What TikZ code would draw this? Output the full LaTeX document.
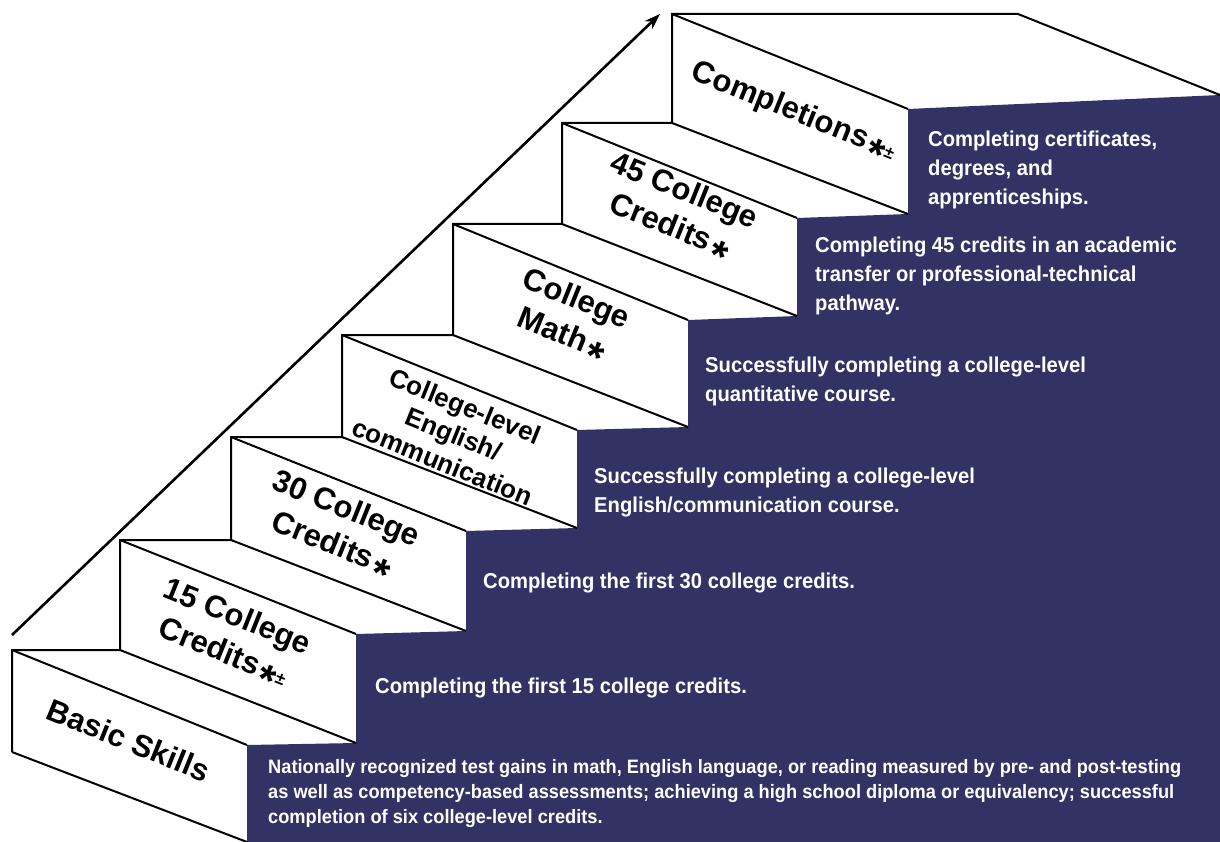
\documentclass[tikz,border=0pt]{standalone}
\usepackage{fontspec}
\setmainfont{Liberation Sans}
\newfontfamily\navyfont[FakeStretch=0.94]{Liberation Sans}
\usetikzlibrary{arrows.meta}
\definecolor{navy}{RGB}{50,50,100}
\newcommand{\astk}{\kern0.1em\raisebox{-0.48em}{\scalebox{1.4}{*}}}
\newcommand{\pmk}{\raisebox{0.02em}{\scalebox{0.55}{±}}}
\begin{document}
\begin{tikzpicture}[x=1pt,y=-1pt,
  edge/.style={line width=2pt, line join=miter, line cap=butt},
  facetext/.style={rotate=-22, align=center, font=\fontsize{31}{38}\selectfont\bfseries, text=black, inner sep=0pt},
  smallface/.style={facetext, font=\fontsize{26}{30}\selectfont\bfseries},
  desc/.style={anchor=base west, align=left, font=\navyfont\fontsize{21.5}{29}\selectfont\bfseries, text=white, inner sep=0pt},
  descsmall/.style={desc, font=\navyfont\fontsize{19.4}{25}\selectfont\bfseries}
]
\useasboundingbox (0,0) rectangle (1220,842);
% navy corners
\coordinate (c1) at (247,745);
\coordinate (d1) at (356,743);
\coordinate (c2) at (356,634);
\coordinate (d2) at (466,631);
\coordinate (c3) at (466,531);
\coordinate (d3) at (577,528);
\coordinate (c4) at (577,430);
\coordinate (d4) at (688,427);
\coordinate (c5) at (688,320);
\coordinate (d5) at (797,316);
\coordinate (c6) at (797,218);
\coordinate (d6) at (908,214);
\coordinate (c7) at (908,109);
\coordinate (e7) at (1220,95);
% step left corners
\coordinate (t1) at (12,650);
\coordinate (b1) at (12,752);
\coordinate (t2) at (120,540);
\coordinate (b2) at (120,650);
\coordinate (t3) at (231,437);
\coordinate (b3) at (231,540);
\coordinate (t4) at (342,335);
\coordinate (b4) at (342,437);
\coordinate (t5) at (453,224);
\coordinate (b5) at (453,335);
\coordinate (t6) at (562,123);
\coordinate (b6) at (562,224);
\coordinate (t7) at (672,14);
\coordinate (b7) at (672,123);
\coordinate (top) at (1018,14);
\coordinate (bot1) at (247,842);

\fill[navy] (bot1) -- (c1) -- (d1) -- (c2) -- (d2) -- (c3) -- (d3) -- (c4) -- (d4) -- (c5) -- (d5) -- (c6) -- (d6) -- (c7) -- (e7) -- (1220,842) -- cycle;

% staircase outline on the left
\draw[edge] (b1) -- (t1) -- (b2) -- (t2) -- (b3) -- (t3) -- (b4) -- (t4) -- (b5) -- (t5) -- (b6) -- (t6) -- (b7) -- (t7) -- (top) -- (e7);
% slanted edges
\draw[edge] (t1) -- (c1);
\draw[edge] (b1) -- (bot1);
\draw[edge] (t2) -- (c2);
\draw[edge] (b2) -- (d1);
\draw[edge] (t3) -- (c3);
\draw[edge] (b3) -- (d2);
\draw[edge] (t4) -- (c4);
\draw[edge] (b4) -- (d3);
\draw[edge] (t5) -- (c5);
\draw[edge] (b5) -- (d4);
\draw[edge] (t6) -- (c6);
\draw[edge] (b6) -- (d5);
\draw[edge] (t7) -- (c7);
\draw[edge] (b7) -- (d6);

% arrow
\coordinate (as) at (12,635);
\coordinate (ae) at (660,14);
\draw[line width=2.6pt, -{Stealth[length=16pt,width=11pt]}] (as) -- (ae);

% face labels
\node[facetext] (f1) at (129,740) {Basic Skills};
\node[facetext] (f2) at (228,640) {15 College\\Credits\astk\pmk};
\node[facetext] (f3) at (337,532) {30 College\\Credits\astk};
\node[smallface] (f4) at (454,434) {College-level\\English/\\communication};
\node[facetext] (f5) at (567,322) {College\\Math\astk};
\node[facetext] (f6) at (675,214) {45 College\\Credits\astk};
\node[facetext] (f7) at (792,116) {Completions\astk\pmk};

% descriptions (anchor at baseline of the last line)
\node[desc] (g7) at (928,205) {Completing certificates,\\degrees, and\\apprenticeships.};
\node[desc] (g6) at (815,310) {Completing 45 credits in an academic\\transfer or professional-technical\\pathway.};
\node[desc] (g5) at (705,401) {Successfully completing a college-level\\quantitative course.};
\node[desc] (g4) at (594,512) {Successfully completing a college-level\\English/communication course.};
\node[desc] (g3) at (483,588) {Completing the first 30 college credits.};
\node[desc] (g2) at (375,693) {Completing the first 15 college credits.};
\node[descsmall] (g1) at (268,823) {Nationally recognized test gains in math, English language, or reading measured by pre- and post-testing\\as well as competency-based assessments; achieving a high school diploma or equivalency; successful\\completion of six college-level credits.};
\end{tikzpicture}
\end{document}
